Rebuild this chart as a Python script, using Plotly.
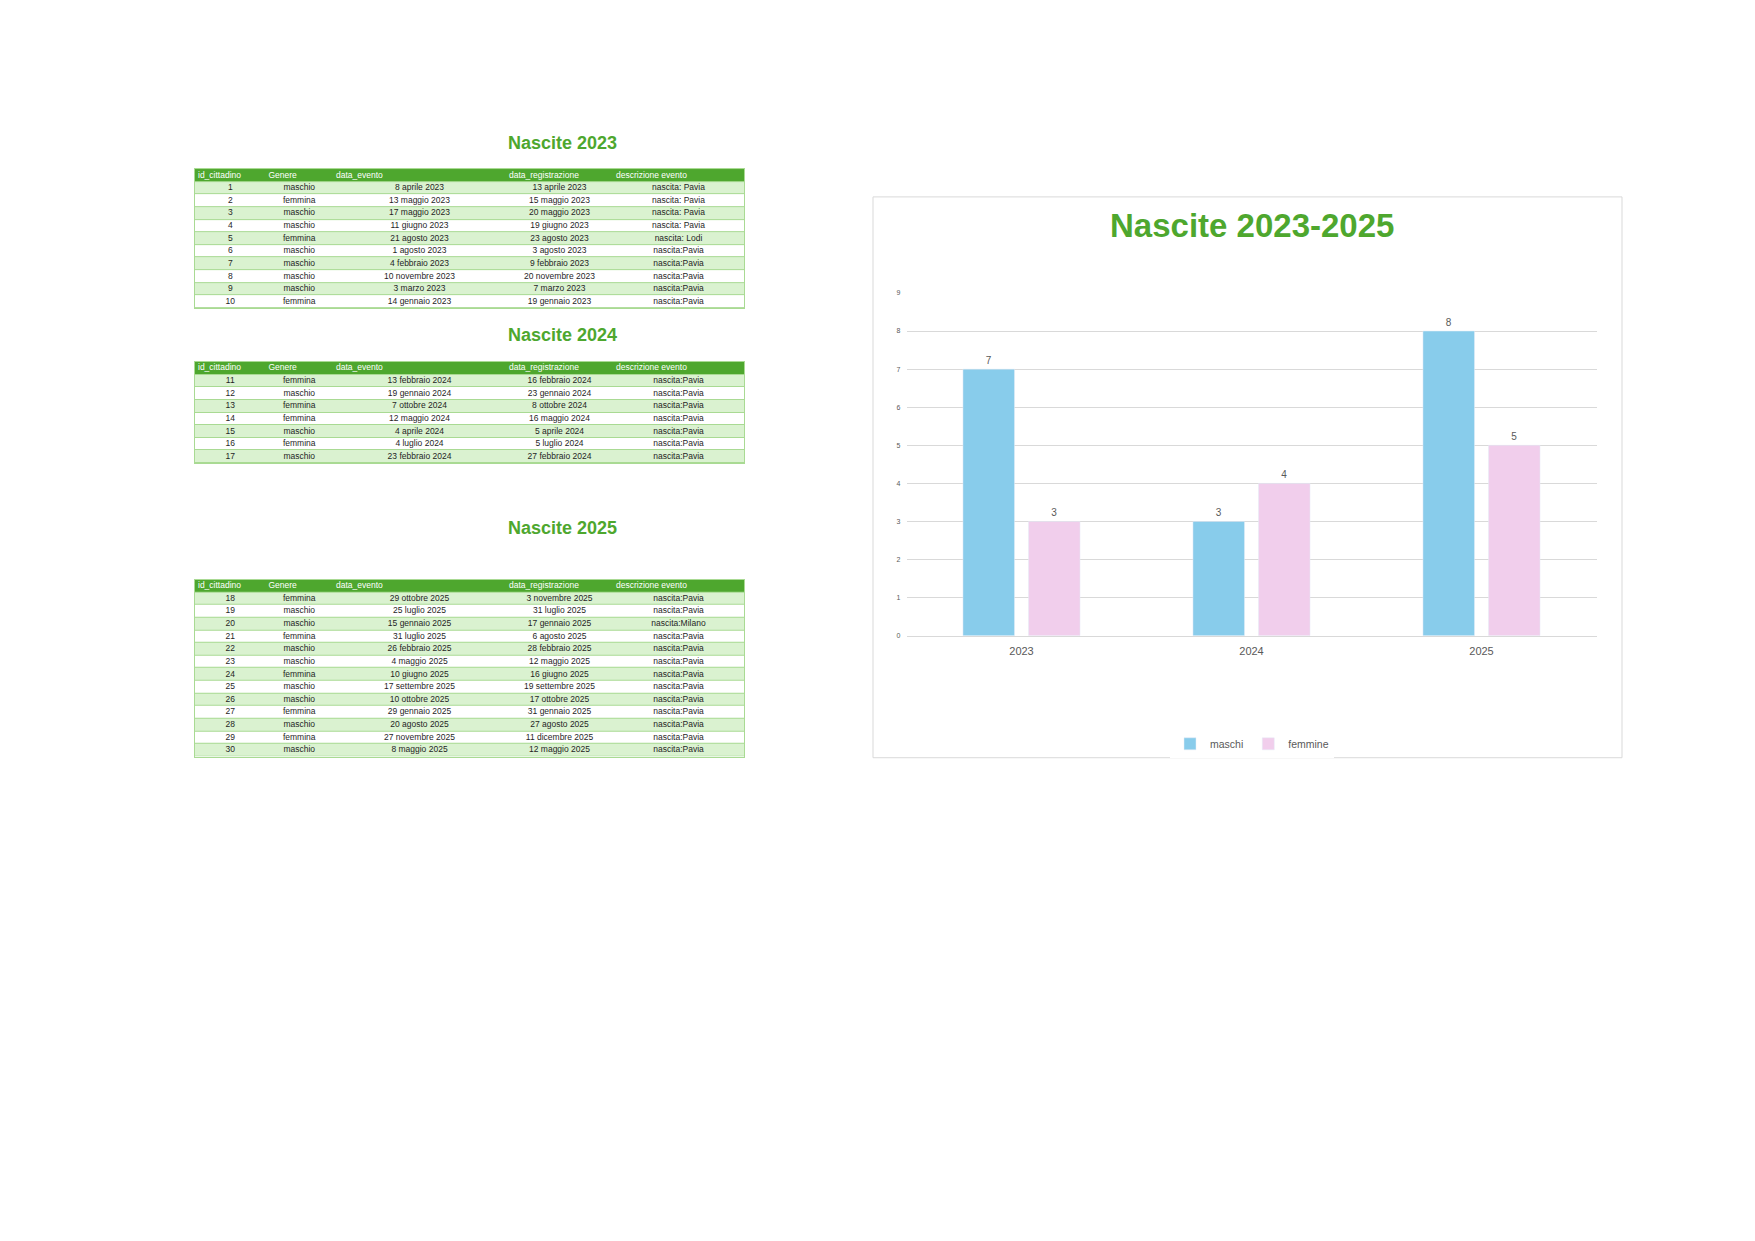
import plotly.graph_objects as go

# dati grafico
anni = ["2023", "2024", "2025"]
maschi = [7, 3, 8]
femmine = [3, 4, 5]

# tabelle
colonne = ["id_cittadino", "Genere", "data_evento", "data_registrazione", "descrizione evento"]

id_2023 = [1, 2, 3, 4, 5, 6, 7, 8, 9, 10]
genere_2023 = ["maschio", "femmina", "maschio", "maschio", "femmina", "maschio", "maschio", "maschio", "maschio", "femmina"]
evento_2023 = ["8 aprile 2023", "13 maggio 2023", "17 maggio 2023", "11 giugno 2023", "21 agosto 2023",
               "1 agosto 2023", "4 febbraio 2023", "10 novembre 2023", "3 marzo 2023", "14 gennaio 2023"]
registr_2023 = ["13 aprile 2023", "15 maggio 2023", "20 maggio 2023", "19 giugno 2023", "23 agosto 2023",
                "3 agosto 2023", "9 febbraio 2023", "20 novembre 2023", "7 marzo 2023", "19 gennaio 2023"]
descr_2023 = ["nascita: Pavia", "nascita: Pavia", "nascita: Pavia", "nascita: Pavia", "nascita: Lodi",
              "nascita:Pavia", "nascita:Pavia", "nascita:Pavia", "nascita:Pavia", "nascita:Pavia"]

id_2024 = [11, 12, 13, 14, 15, 16, 17]
genere_2024 = ["femmina", "maschio", "femmina", "femmina", "maschio", "femmina", "maschio"]
evento_2024 = ["13 febbraio 2024", "19 gennaio 2024", "7 ottobre 2024", "12 maggio 2024", "4 aprile 2024",
               "4 luglio 2024", "23 febbraio 2024"]
registr_2024 = ["16 febbraio 2024", "23 gennaio 2024", "8 ottobre 2024", "16 maggio 2024", "5 aprile 2024",
                "5 luglio 2024", "27 febbraio 2024"]
descr_2024 = ["nascita:Pavia"] * 7

id_2025 = [18, 19, 20, 21, 22, 23, 24, 25, 26, 27, 28, 29, 30]
genere_2025 = ["femmina", "maschio", "maschio", "femmina", "maschio", "maschio", "femmina", "maschio",
               "maschio", "femmina", "maschio", "femmina", "maschio"]
evento_2025 = ["29 ottobre 2025", "25 luglio 2025", "15 gennaio 2025", "31 luglio 2025", "26 febbraio 2025",
               "4 maggio 2025", "10 giugno 2025", "17 settembre 2025", "10 ottobre 2025", "29 gennaio 2025",
               "20 agosto 2025", "27 novembre 2025", "8 maggio 2025"]
registr_2025 = ["3 novembre 2025", "31 luglio 2025", "17 gennaio 2025", "6 agosto 2025", "28 febbraio 2025",
                "12 maggio 2025", "16 giugno 2025", "19 settembre 2025", "17 ottobre 2025", "31 gennaio 2025",
                "27 agosto 2025", "11 dicembre 2025", "12 maggio 2025"]
descr_2025 = ["nascita:Pavia", "nascita:Pavia", "nascita:Milano"] + ["nascita:Pavia"] * 10

W, H = 1755, 1241
VERDE = "#4EA72E"
BANDA = "#DAF2D0"
LINEA = "#A9DA93"
FONT = "Liberation Sans, Arial, sans-serif"
GRIGIO = "#595959"

# larghezze colonne (px) e altezza riga
larghezze = [70.5, 67.5, 173, 107, 131]
RIGA = 12.7
TAB_X0 = 195

bordi = [0]
for w in larghezze:
    bordi.append(bordi[-1] + w)
centri = [(bordi[j] + bordi[j + 1]) / 2 for j in range(len(larghezze))]

fig = go.Figure()
layout_assi = {}


def tabella(k, valori, top_px):
    n = len(valori[0])
    R = n + 1
    xa, ya = "x%d" % k, "y%d" % k
    # sfondo linee
    fig.add_shape(type="rect", xref=xa, yref=ya, x0=0, x1=bordi[-1], y0=0, y1=R,
                  fillcolor=LINEA, line_width=0, layer="below")
    # righe alternate
    z = [[2]] + [[1] if i % 2 == 0 else [0] for i in range(n)]
    fig.add_trace(go.Heatmap(x=[0, bordi[-1]], y=list(range(R + 1)), z=z, xaxis=xa, yaxis=ya,
                             zmin=0, zmax=2, showscale=False, ygap=1, hoverinfo="skip",
                             colorscale=[[0, "white"], [0.5, BANDA], [1, VERDE]]))
    # intestazione
    fig.add_trace(go.Scatter(x=[b + 3 for b in bordi[:-1]], y=[0.5] * len(colonne), text=colonne,
                             mode="text", textposition="middle right", xaxis=xa, yaxis=ya,
                             textfont=dict(family=FONT, size=8.5, color="white"),
                             hoverinfo="skip", showlegend=False))
    # celle
    for j, col in enumerate(valori):
        fig.add_trace(go.Scatter(x=[centri[j]] * n, y=[i + 1.5 for i in range(n)], text=col,
                                 mode="text", textposition="middle center", xaxis=xa, yaxis=ya,
                                 textfont=dict(family=FONT, size=8.5, color="#1F1F1F"),
                                 hoverinfo="skip", showlegend=False))
    bottom_px = top_px + R * RIGA
    asse = dict(showline=True, mirror=True, linecolor=LINEA, linewidth=1, showgrid=False,
                zeroline=False, showticklabels=False, ticks="", fixedrange=True)
    layout_assi["xaxis%d" % k] = dict(asse, domain=[TAB_X0 / W, (TAB_X0 + bordi[-1]) / W],
                                      range=[0, bordi[-1]], anchor=ya)
    layout_assi["yaxis%d" % k] = dict(asse, domain=[1 - bottom_px / H, 1 - top_px / H],
                                      range=[R, 0], anchor=xa)


tabella(2, [id_2023, genere_2023, evento_2023, registr_2023, descr_2023], 166)
tabella(3, [id_2024, genere_2024, evento_2024, registr_2024, descr_2024], 360)
tabella(4, [id_2025, genere_2025, evento_2025, registr_2025, descr_2025], 579)

fig.add_trace(go.Bar(x=anni, y=maschi, name="maschi", marker_color="#88CCEB",
                     text=maschi, textposition="outside", cliponaxis=False,
                     textfont=dict(family=FONT, size=10, color=GRIGIO)))
fig.add_trace(go.Bar(x=anni, y=femmine, name="femmine", marker_color="#F1CEEC",
                     text=femmine, textposition="outside", cliponaxis=False,
                     textfont=dict(family=FONT, size=10, color=GRIGIO)))

# titoli tabelle
for titolo, y_px in [("Nascite 2023", 140), ("Nascite 2024", 333), ("Nascite 2025", 527)]:
    fig.add_annotation(text="<b>%s</b>" % titolo, xref="paper", yref="paper",
                       x=562 / W, y=1 - y_px / H, xanchor="center", yanchor="middle", showarrow=False,
                       font=dict(family=FONT, size=18, color=VERDE))

# titolo grafico
fig.add_annotation(text="<b>Nascite 2023-2025</b>", xref="paper", yref="paper",
                   x=1252 / W, y=1 - 223 / H, xanchor="center", yanchor="middle", showarrow=False,
                   font=dict(family=FONT, size=33, color=VERDE))

# cornice del grafico
fig.add_shape(type="rect", xref="paper", yref="paper",
              x0=873 / W, x1=1622 / W, y0=1 - 758 / H, y1=1 - 194 / H,
              line=dict(color="#D9D9D9", width=1), fillcolor="rgba(0,0,0,0)", layer="below")

fig.update_layout(
    width=W, height=H,
    margin=dict(l=0, r=0, t=0, b=0),
    paper_bgcolor="white", plot_bgcolor="white",
    barmode="group", bargap=0.43, bargroupgap=0.214,
    showlegend=True,
    legend=dict(orientation="h", x=1252 / W, y=1 - 744 / H, xanchor="center", yanchor="middle",
                font=dict(family=FONT, size=10.5, color=GRIGIO), itemwidth=30),
    xaxis=dict(domain=[906.5 / W, 1596.5 / W], showline=True, linecolor="#D9D9D9",
               tickfont=dict(family=FONT, size=11, color=GRIGIO), ticks="", fixedrange=True,
               ticklabelstandoff=5),
    yaxis=dict(domain=[1 - 635.3 / H, 1 - 290.6 / H], range=[0, 9], dtick=1,
               showgrid=True, gridcolor="#D9D9D9", zeroline=False, fixedrange=True,
               tickfont=dict(family=FONT, size=7, color=GRIGIO), ticklabelstandoff=5),
    **layout_assi
)

fig.write_html("out.html", config={"displayModeBar": False},
               post_script="document.body.style.margin='0px';")
